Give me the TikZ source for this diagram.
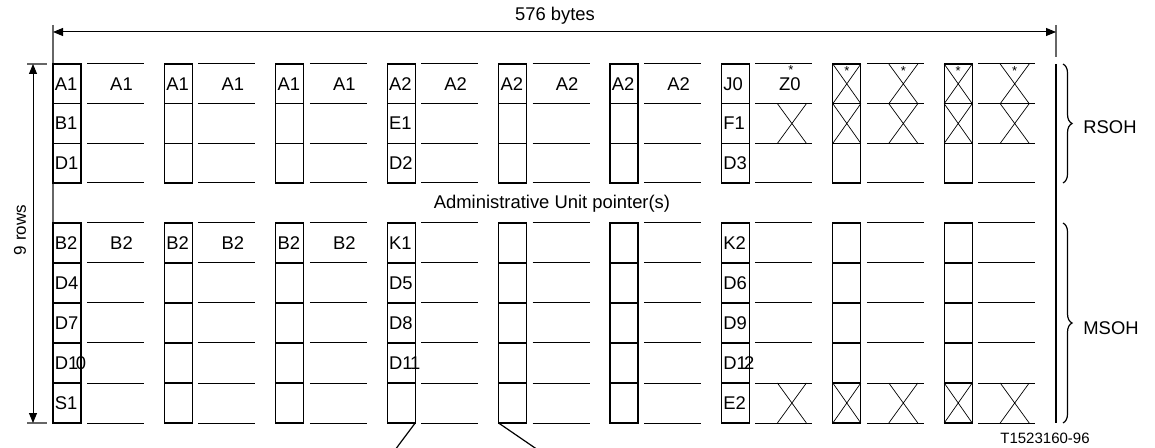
\documentclass[tikz,border=0pt]{standalone}
\usepackage{fontspec}
\setmainfont{Liberation Sans}
\usetikzlibrary{arrows.meta,decorations.pathreplacing}
\newcommand\tightlbl[2]{#1\kern-1.3pt#2}
\begin{document}
\begin{tikzpicture}[x=0.5pt,y=-0.5pt,
  cell/.style={draw=black,line width=0.65pt},
  seg/.style={draw=black,line width=0.5pt},
  xx/.style={draw=black,line width=0.35pt},
  thin/.style={draw=black!60,line width=0.55pt},
  bar/.style={draw=black,line width=1.3pt},
  lbl/.style={font=\fontsize{9.2}{10}\selectfont,inner sep=0pt},
  small/.style={font=\fontsize{7.5}{8}\selectfont,inner sep=0pt},
  star/.style={font=\fontsize{6.5}{7}\selectfont,inner sep=0pt,anchor=north},
  dim/.style={draw=black,line width=0.5pt,{Triangle[length=5pt,width=4pt]}-{Triangle[length=5pt,width=4pt]}},
  brc/.style={draw=black,line width=0.6pt,decorate,decoration={brace,amplitude=4.5pt}}]
\useasboundingbox (0,0) rectangle (1155,448);

% dimension lines
\draw[thin] (53,25) -- (53,423);
\draw[thin] (1056,25) -- (1056,57);
\coordinate (tl) at (53,32);
\coordinate (tr) at (1056,32);
\draw[dim] (tl) -- (tr);
\node[lbl] (bytes) at (555,16) {576 bytes};

\draw[thin] (27,64) -- (47,64);
\draw[thin] (27,423) -- (47,423);
\coordinate (lt) at (33,64);
\coordinate (lb) at (33,423);
\draw[dim] (lt) -- (lb);
\node[lbl,rotate=90,font=\fontsize{8.5}{9}\selectfont] (rows) at (20,230) {9 rows};

% columns
\foreach \i in {0,...,8}{
  \pgfmathsetmacro\bx{53+111.4*\i}
  \draw[cell] (\bx,64) rectangle ++(28,119);
  \draw[cell] (\bx,103.7) -- ++(28,0) (\bx,143.3) -- ++(28,0);
  \draw[cell] (\bx,223) rectangle ++(28,200);
  \foreach \yy in {263,303,343,383} \draw[cell] (\bx,\yy) -- ++(28,0);
  \foreach \yy in {64,103.7,143.3,183,223,263,303,343,383,423}
    \draw[seg] (\bx+34,\yy) -- (\bx+91,\yy);
}

% box labels
\foreach \i/\r/\t in {0/0/A1,0/1/B1,0/2/D1,1/0/A1,2/0/A1,3/0/A2,3/1/E1,3/2/D2,
  4/0/A2,5/0/A2,6/0/J0,6/1/F1,6/2/D3,
  0/3/B2,0/4/D4,0/5/D7,0/6/{\tightlbl{D1}{0}},0/7/S1,1/3/B2,2/3/B2,
  3/3/K1,3/4/D5,3/5/D8,3/6/{\tightlbl{D1}{1}},
  6/3/K2,6/4/D6,6/5/D9,6/6/{\tightlbl{D1}{2}},6/7/E2}{
  \pgfmathsetmacro\bx{53+111.4*\i}
  \pgfmathsetmacro\cy{\r<3 ? 83.8+39.67*\r : 243+40*(\r-3)}
  \node[lbl,anchor=west] (b-\i-\r) at (\bx+1.5,\cy) {\t};
}

% segment labels
\foreach \i/\r/\t in {0/0/A1,1/0/A1,2/0/A1,3/0/A2,4/0/A2,5/0/A2,6/0/Z0,0/3/B2,1/3/B2,2/3/B2}{
  \pgfmathsetmacro\bx{53+111.4*\i}
  \pgfmathsetmacro\cy{\r<3 ? 84.5+39.67*\r : 243+40*(\r-3)}
  \node[lbl] (s-\i-\r) at (\bx+68.5,\cy) {\t};
}

% crosses in boxes
\foreach \i/\r in {7/0,7/1,7/7,8/0,8/1,8/7}{
  \pgfmathsetmacro\bx{53+111.4*\i}
  \pgfmathsetmacro\ty{\r<3 ? 64+39.67*\r : 223+40*(\r-3)}
  \pgfmathsetmacro\by{\r<3 ? 64+39.67*(\r+1) : 223+40*(\r-2)}
  \draw[xx] (\bx,\ty) -- (\bx+28,\by) (\bx,\by) -- (\bx+28,\ty);
}
% crosses in segments
\foreach \i/\r in {6/1,6/7,7/0,7/1,7/7,8/0,8/1,8/7}{
  \pgfmathsetmacro\bx{53+111.4*\i}
  \pgfmathsetmacro\ty{\r<3 ? 64+39.67*\r : 223+40*(\r-3)}
  \pgfmathsetmacro\by{\r<3 ? 64+39.67*(\r+1) : 223+40*(\r-2)}
  \draw[xx] (\bx+56,\ty) -- (\bx+85,\by) (\bx+56,\by) -- (\bx+85,\ty);
}
% stars
\node[star] (st1) at (791,65) {*};
\foreach \i in {7,8}{
  \pgfmathsetmacro\bx{53+111.4*\i}
  \node[star] (sb-\i) at (\bx+14,66) {*};
  \node[star] (ss-\i) at (\bx+70.5,66) {*};
}

\node[lbl] (aup) at (552,204) {Administrative Unit pointer(s)};

% right bar and braces
\draw[bar] (1056,64) -- (1056,423);
\draw[brc] (1063,64) -- (1063,183);
\draw[brc] (1063,223) -- (1063,423);
\node[lbl] (rsoh) at (1110,127) {RSOH};
\node[lbl] (msoh) at (1111,328) {MSOH};
\node[small] (fig) at (1045,438) {T1523160-96};

% leader lines
\coordinate (k1c) at (415.2,423);
\coordinate (c5c) at (498.6,423);
\coordinate (l1) at (395,450);
\coordinate (l2) at (538,450);
\draw[seg,line width=0.6pt] (k1c) -- (l1);
\draw[seg,line width=0.6pt] (c5c) -- (l2);
\end{tikzpicture}
\end{document}
